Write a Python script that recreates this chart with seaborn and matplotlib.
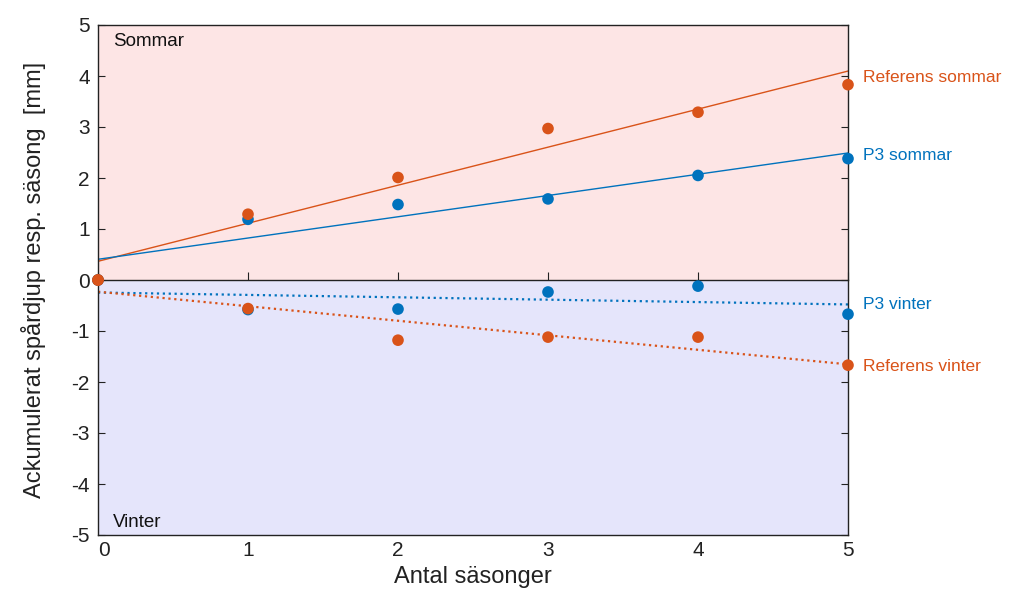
import numpy as np
import pandas as pd
import matplotlib
matplotlib.use("Agg")
import matplotlib.pyplot as plt
import seaborn as sns

# ---- data ----
seasons = [0, 1, 2, 3, 4, 5]
ref_sommar = [0, 1.29, 2.01, 2.97, 3.29, 3.83]
p3_sommar = [0, 1.19, 1.48, 1.59, 2.05, 2.38]
p3_vinter = [0, -0.58, -0.57, -0.235, -0.12, -0.67]
ref_vinter = [0, -0.56, -1.18, -1.12, -1.12, -1.67]
series_names = ["Referens sommar", "P3 sommar", "P3 vinter", "Referens vinter"]
label_y = [3.98, 2.45, -0.49, -1.69]
xticks = [0, 1, 2, 3, 4, 5]
yticks = [-5, -4, -3, -2, -1, 0, 1, 2, 3, 4, 5]

ORANGE = "#D95319"
BLUE = "#0072BD"
DARK = "#222222"

sns.set_theme(style="white")
plt.rcParams["font.family"] = ["Liberation Sans", "DejaVu Sans"]

fig = plt.figure(figsize=(10.13, 5.90), dpi=100)
ax = fig.add_axes([98 / 1013, 55 / 590, 750 / 1013, 510 / 590])

ax.axhspan(0, 5, color="#FDE5E5", zorder=0, lw=0)
ax.axhspan(-5, 0, color="#E5E5FB", zorder=0, lw=0)

series = {
    "Referens sommar": (ref_sommar, ORANGE, "-"),
    "P3 sommar": (p3_sommar, BLUE, "-"),
    "P3 vinter": (p3_vinter, BLUE, ":"),
    "Referens vinter": (ref_vinter, ORANGE, ":"),
}

rows = []
for name in series_names:
    vals, col, ls = series[name]
    for x, y in zip(seasons, vals):
        rows.append({"x": x, "y": y, "serie": name})
df = pd.DataFrame(rows)

# regression lines
for name, ly in zip(series_names, label_y):
    vals, col, ls = series[name]
    sub = df[df.serie == name]
    lw = 1.0 if ls == "-" else 1.6
    sns.regplot(data=sub, x="x", y="y", ax=ax, scatter=False, ci=None,
                truncate=True, line_kws=dict(color=col, lw=lw, ls=ls, zorder=2))
    ax.text(seasons[-1] + 0.1, ly, name, color=col, fontsize=12.5,
            va="center", ha="left", clip_on=False)

# points: blue first, orange on top
for name in ["P3 sommar", "P3 vinter", "Referens sommar", "Referens vinter"]:
    vals, col, ls = series[name]
    sub = df[df.serie == name]
    sns.scatterplot(data=sub, x="x", y="y", ax=ax, color=col, s=70,
                    edgecolor="none", zorder=4, clip_on=False, legend=False)

ax.set_xlim(0, 5)
ax.set_ylim(-5, 5)
ax.set_xticks(xticks)
ax.set_yticks(yticks)
ax.set_xticklabels([str(t) for t in xticks], fontsize=15, color=DARK)
ax.set_yticklabels([str(t) for t in yticks], fontsize=15, color=DARK)
ax.get_xticklabels()[0].set_horizontalalignment("left")
ax.tick_params(axis="x", length=0, pad=4)
ax.tick_params(axis="y", direction="in", left=True, right=True, length=5,
               width=0.8, color=DARK, pad=6)

for sp in ax.spines.values():
    sp.set_visible(True)
    sp.set_color(DARK)
    sp.set_linewidth(1.0)

# zero axis with inward ticks
sec = ax.secondary_xaxis(0.5)
sec.set_xticks(xticks)
sec.tick_params(axis="x", direction="in", length=6, width=0.8, color=DARK,
                labelbottom=False, labeltop=False, bottom=True, top=False)
for sp in sec.spines.values():
    sp.set_color(DARK)
    sp.set_linewidth(1.0)

ax.set_xlabel("Antal säsonger", fontsize=17, color=DARK, labelpad=5)
ax.set_ylabel("Ackumulerat spårdjup resp. säsong  [mm]", fontsize=17,
              color=DARK, labelpad=18)

ax.text(0.1, 4.67, "Sommar", fontsize=13.5, color="#111111", ha="left", va="center")
ax.text(0.1, -4.76, "Vinter", fontsize=13.5, color="#111111", ha="left", va="center")

fig.savefig("out.png", dpi=100)
